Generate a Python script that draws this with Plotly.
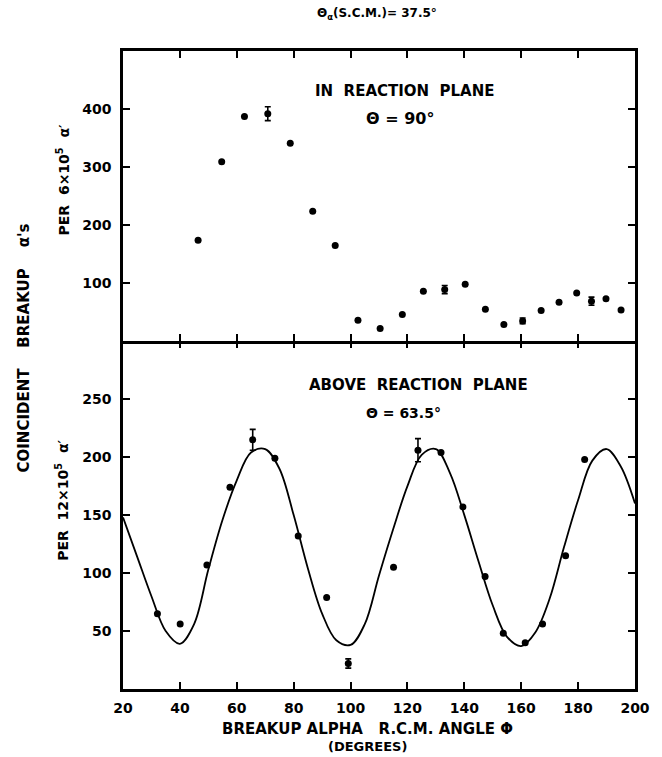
import plotly.graph_objects as go

# ---------------- data ----------------
# Top panel: IN REACTION PLANE (theta = 90 deg), counts per 6x10^5 alpha'
top_phi = [46.4, 54.7, 62.7, 78.8, 86.7, 94.6, 102.6, 110.4, 118.2, 125.6,
           140.3, 147.4, 153.9, 167.0, 173.3, 179.5, 189.8, 195.1]
top_counts = [174, 309, 387, 341, 224, 165, 36, 22, 46, 86,
              98, 55, 29, 53, 67, 83, 73, 54]
top_err_phi = [70.9, 133.1, 160.5, 184.7]
top_err_counts = [392, 89, 35, 69]
top_err_size = [12, 7, 5, 7]

# Bottom panel: ABOVE REACTION PLANE (theta = 63.5 deg), counts per 12x10^5 alpha'
bot_phi = [32.1, 40.1, 49.5, 57.6, 73.4, 81.6, 91.6, 115.1, 131.8, 139.5,
           147.3, 153.7, 161.4, 167.5, 175.6, 182.3]
bot_counts = [65, 56, 107, 174, 199, 132, 79, 105, 204, 157,
              97, 48, 40, 56, 115, 198]
bot_err_phi = [65.6, 99.2, 123.7]
bot_err_counts = [215, 22, 206]
bot_err_size = [9, 4, 10]

# Fitted curve
fit_phi = [20, 25, 30, 35, 40, 45, 50, 55, 60, 65, 70, 75, 80, 85, 90, 95, 100,
           105, 110, 115, 120, 125, 130, 135, 140, 145, 150, 155, 160, 165, 170,
           175, 180, 185, 190, 195, 200]
fit_counts = [148, 114, 80, 50, 39, 56, 103, 146, 180, 204, 207, 190, 150, 104,
              65, 42, 38, 56, 98, 138, 175, 202, 207, 186, 150, 110, 72, 45, 37,
              49, 78, 122, 163, 197, 207, 192, 160]

x_ticks = [20, 40, 60, 80, 100, 120, 140, 160, 180, 200]
top_ticks = [100, 200, 300, 400]
bot_ticks = [50, 100, 150, 200, 250]

# ---------------- figure ----------------
FONT = "DejaVu Sans"
ink = "black"
fig = go.Figure()

mk = dict(color=ink, size=7)

fig.add_trace(go.Scatter(x=top_phi, y=top_counts, mode="markers", marker=mk,
                         xaxis="x2", yaxis="y2", showlegend=False))
fig.add_trace(go.Scatter(x=top_err_phi, y=top_err_counts, mode="markers", marker=mk,
                         error_y=dict(type="data", array=top_err_size, color=ink,
                                      thickness=1.6, width=3),
                         xaxis="x2", yaxis="y2", showlegend=False))

fig.add_trace(go.Scatter(x=fit_phi, y=fit_counts, mode="lines",
                         line=dict(color=ink, width=1.8, shape="spline", smoothing=1.0),
                         xaxis="x", yaxis="y", showlegend=False))
fig.add_trace(go.Scatter(x=bot_phi, y=bot_counts, mode="markers", marker=mk,
                         xaxis="x", yaxis="y", showlegend=False))
fig.add_trace(go.Scatter(x=bot_err_phi, y=bot_err_counts, mode="markers", marker=mk,
                         error_y=dict(type="data", array=bot_err_size, color=ink,
                                      thickness=1.6, width=3),
                         xaxis="x", yaxis="y", showlegend=False))
# empty trace so the tick-only top axis of the lower panel is drawn
fig.add_trace(go.Scatter(x=[], y=[], xaxis="x3", yaxis="y", showlegend=False,
                         hoverinfo="skip"))

split = 347.5 / 637.5
tick_common = dict(ticks="inside", ticklen=7, tickwidth=2, tickcolor=ink,
                   showgrid=False, zeroline=False,
                   tickfont=dict(family=FONT, size=14, color=ink, weight="bold"))
line_common = dict(showline=True, linewidth=2.5, linecolor=ink)

fig.update_layout(
    width=662, height=757, autosize=False,
    paper_bgcolor="white", plot_bgcolor="white",
    margin=dict(l=123, r=21, t=51, b=68),
    xaxis=dict(range=[20, 200], tickvals=x_ticks, anchor="y", domain=[0, 1],
               mirror=False, ticklabelstandoff=4, **line_common, **tick_common),
    xaxis3=dict(range=[20, 200], tickvals=x_ticks, anchor="y", overlaying="x",
                side="top", matches="x", showline=False, showticklabels=False,
                **tick_common),
    xaxis2=dict(range=[20, 200], tickvals=x_ticks, anchor="y2", matches="x",
                showticklabels=False, domain=[0, 1], mirror="ticks",
                **line_common, **tick_common),
    yaxis=dict(range=[0, 300], tickvals=bot_ticks, domain=[0, split], anchor="x",
               mirror="ticks", ticklabelstandoff=6, **line_common, **tick_common),
    yaxis2=dict(range=[0, 500], tickvals=top_ticks, domain=[split, 1], anchor="x2",
                mirror="ticks", ticklabelstandoff=6, **line_common, **tick_common),
)

def ann(text, x, y, xref="paper", yref="paper", size=13, angle=0):
    fig.add_annotation(text=text, x=x, y=y, xref=xref, yref=yref,
                       showarrow=False, textangle=angle,
                       xanchor="center", yanchor="middle",
                       font=dict(family=FONT, size=size, color=ink, weight="bold"))

nb = "\u00a0"
ann("Θ<sub>α</sub>(S.C.M.)= 37.5°", 0.496, 1.058, size=12)
ann("IN" + nb * 2 + "REACTION" + nb * 2 + "PLANE", 119, 431, "x2", "y2", size=15)
ann("Θ = 90°", 117.5, 383, "x2", "y2", size=16)
ann("ABOVE" + nb * 2 + "REACTION" + nb * 2 + "PLANE", 124, 262, "x", "y", size=15)
ann("Θ = 63.5°", 118.5, 238, "x", "y", size=14)

ann("COINCIDENT" + nb * 4 + "BREAKUP" + nb * 4 + "α's", -0.193, 0.534, size=15, angle=-90)
ann("PER" + nb * 2 + "6×10<sup>5</sup>" + nb * 2 + "α′", -0.118, 0.798, size=14, angle=-90)
ann("PER" + nb * 2 + "12×10<sup>5</sup>" + nb * 2 + "α′", -0.118, 0.296, size=14, angle=-90)

ann("BREAKUP" + nb + "ALPHA" + nb * 3 + "R.C.M." + nb + "ANGLE" + nb + "Φ", 0.477, -0.0625, size=15)
ann("(DEGREES)", 0.477, -0.0905, size=13)

fig.write_html("out.html", config={"displayModeBar": False},
               post_script="document.body.style.margin='0px';")
